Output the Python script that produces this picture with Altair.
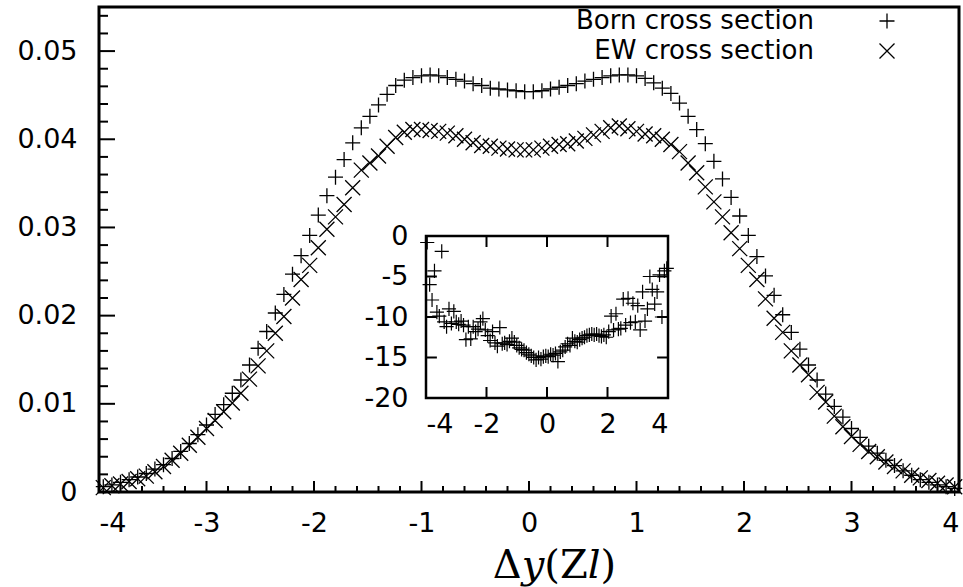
import altair as alt
import pandas as pd

# ---------------- data ----------------
x_bins = [round(-3.96 + 0.08 * i, 2) for i in range(100)]

born = [0.0006, 0.0008, 0.0011, 0.0014, 0.0017, 0.0021, 0.0026, 0.0031, 0.0038, 0.0046,
        0.0055, 0.0065, 0.0076, 0.0088, 0.0099, 0.0112, 0.0127, 0.0144, 0.0163, 0.0182,
        0.0203, 0.0224, 0.0247, 0.0268, 0.0291, 0.0314, 0.0336, 0.0357, 0.0377, 0.0396,
        0.0413, 0.0426, 0.0439, 0.0451, 0.0461, 0.0467, 0.0470, 0.0472, 0.0473, 0.0472,
        0.0470, 0.0468, 0.0466, 0.0463, 0.0461, 0.0458, 0.0457, 0.0456, 0.0455, 0.0454,
        0.0454, 0.0455, 0.0457, 0.0459, 0.0461, 0.0463, 0.0466, 0.0468, 0.0470, 0.0472,
        0.0473, 0.0473, 0.0472, 0.0469, 0.0464, 0.0458, 0.0452, 0.0441, 0.0426, 0.0411,
        0.0395, 0.0375, 0.0355, 0.0334, 0.0313, 0.0291, 0.0267, 0.0245, 0.0223, 0.0201,
        0.0181, 0.0162, 0.0144, 0.0127, 0.0111, 0.0097, 0.0085, 0.0072, 0.0062, 0.0052,
        0.0044, 0.0036, 0.0030, 0.0024, 0.0019, 0.0014, 0.0011, 0.0008, 0.0006, 0.0004]

ew = [0.0005, 0.0007, 0.0009, 0.0012, 0.0015, 0.0018, 0.0023, 0.0029, 0.0036, 0.0044,
      0.0053, 0.0062, 0.0072, 0.0081, 0.0091, 0.0101, 0.0112, 0.0128, 0.0143, 0.0160,
      0.0180, 0.0199, 0.0220, 0.0241, 0.0257, 0.0277, 0.0298, 0.0312, 0.0326, 0.0345,
      0.0365, 0.0373, 0.0381, 0.0392, 0.0402, 0.0408, 0.0411, 0.0411, 0.0410, 0.0409,
      0.0407, 0.0404, 0.0400, 0.0396, 0.0393, 0.0392, 0.0390, 0.0389, 0.0388, 0.0388,
      0.0388, 0.0390, 0.0392, 0.0394, 0.0395, 0.0398, 0.0401, 0.0405, 0.0409, 0.0413,
      0.0415, 0.0412, 0.0409, 0.0406, 0.0404, 0.0400, 0.0394, 0.0386, 0.0373, 0.0362,
      0.0346, 0.0329, 0.0312, 0.0294, 0.0276, 0.0257, 0.0241, 0.0219, 0.0197, 0.0181,
      0.0160, 0.0144, 0.0133, 0.0113, 0.0102, 0.0086, 0.0074, 0.0063, 0.0054, 0.0046,
      0.0040, 0.0034, 0.0029, 0.0024, 0.0019, 0.0016, 0.0013, 0.0010, 0.0008, 0.0006]

# inset: relative correction in percent
inset_y = [-0.8, -6.0, -7.9, -4.3, -9.4, -9.9, -1.9, -10.6, -11.2, -9.0,
           -10.8, -9.3, -10.6, -10.9, -10.5, -11.0, -12.8, -11.2, -12.7, -11.2,
           -11.8, -11.5, -10.6, -10.2, -11.6, -12.3, -12.9, -11.8, -13.2, -13.6,
           -11.3, -13.3, -13.2, -13.4, -13.0, -12.6, -13.1, -13.5, -13.8, -14.0,
           -14.1, -14.4, -14.6, -14.8, -15.0, -15.3, -15.0, -15.2, -14.9, -14.8,
           -14.9, -14.6, -14.7, -14.5, -15.5, -14.3, -14.1, -13.7, -13.3, -13.5,
           -12.6, -13.0, -13.1, -12.8, -12.6, -12.5, -12.3, -12.2, -12.1, -12.2,
           -12.1, -12.3, -12.4, -12.2, -12.5, -11.8, -9.9, -11.6, -9.6, -11.5,
           -11.4, -7.8, -11.0, -7.7, -10.7, -8.3, -10.6, -8.6, -11.6, -6.9,
           -10.5, -9.0, -5.0, -6.6, -8.4, -6.9, -4.8, -10.0, -4.3, -4.0]

series_names = ["Born cross section", "EW cross section"]

x_major = [-4, -3, -2, -1, 0, 1, 2, 3, 4]
x_minor = [-3.8, -3.6, -3.4, -3.2, -2.8, -2.6, -2.4, -2.2, -1.8, -1.6, -1.4, -1.2,
           -0.8, -0.6, -0.4, -0.2, 0.2, 0.4, 0.6, 0.8, 1.2, 1.4, 1.6, 1.8,
           2.2, 2.4, 2.6, 2.8, 3.2, 3.4, 3.6, 3.8]
y_major = [0, 0.01, 0.02, 0.03, 0.04, 0.05]
y_minor = [0.002, 0.004, 0.006, 0.008, 0.012, 0.014, 0.016, 0.018, 0.022, 0.024,
           0.026, 0.028, 0.032, 0.034, 0.036, 0.038, 0.042, 0.044, 0.046, 0.048,
           0.052, 0.054]

inset_x_ticks = [-4, -2, 0, 2, 4]
inset_y_ticks = [-20, -15, -10, -5, 0]
inset_x_inner = [-2, 0, 2]
inset_y_inner = [-15, -10, -5]

# ---------------- style ----------------
FONT = "DejaVu Sans"
FS = 27
W, H = 860, 485
PLUS = "M-1,0L1,0M0,-1L0,1"
CROSS = "M-1,-1L1,1M-1,1L1,-1"
HYPHEN = "replace(datum.label, '\u2212', '-')"

main_df = pd.DataFrame({
    "x": x_bins + x_bins,
    "y": ew + born,
    "series": [series_names[1]] * len(ew) + [series_names[0]] * len(born),
})

xs = alt.Scale(domain=[-4, 4], nice=False, zero=False)
ys = alt.Scale(domain=[0, 0.055], nice=False, zero=False)
shape_scale = alt.Scale(domain=series_names, range=[PLUS, CROSS])

points = alt.Chart(main_df).mark_point(
    filled=False, stroke="black", strokeWidth=1.3, size=225, opacity=1
).encode(
    x=alt.X("x:Q", scale=xs, axis=alt.Axis(
        values=x_major, labels=True, ticks=True, tickSize=0, domain=False, grid=False,
        labelExpr=HYPHEN,
        labelPadding=18, labelFont=FONT, labelFontSize=FS, labelColor="black",
        title="Δ𝑦(Z𝑙)", titleFont="DejaVu Serif", titleFontSize=40,
        titleFontWeight="normal", titleColor="black", titlePadding=9,
        titleX=455, titleAlign="center", titleAnchor="middle")),
    y=alt.Y("y:Q", scale=ys, axis=alt.Axis(
        values=y_major, format=".2~f", labels=True, ticks=True, tickSize=0,
        domain=False, grid=False,
        labelPadding=22, labelFont=FONT, labelFontSize=FS, labelColor="black",
        title=None)),
    shape=alt.Shape("series:N", scale=shape_scale, legend=None),
)

ymaj = alt.Chart(pd.DataFrame({"v": y_major})).mark_rule(color="black", strokeWidth=2).encode(
    y=alt.Y("v:Q", scale=ys, axis=None), x=alt.value(0), x2=alt.value(16))
ymin = alt.Chart(pd.DataFrame({"v": y_minor})).mark_rule(color="black", strokeWidth=2).encode(
    y=alt.Y("v:Q", scale=ys, axis=None), x=alt.value(0), x2=alt.value(9))
xmaj = alt.Chart(pd.DataFrame({"v": x_major})).mark_rule(color="black", strokeWidth=2).encode(
    x=alt.X("v:Q", scale=xs, axis=None), y=alt.value(H), y2=alt.value(H - 11))
xmin = alt.Chart(pd.DataFrame({"v": x_minor})).mark_rule(color="black", strokeWidth=2).encode(
    x=alt.X("v:Q", scale=xs, axis=None), y=alt.value(H), y2=alt.value(H - 6))

# ---------------- legend (text left of symbol, gnuplot style) ----------------
leg_df = pd.DataFrame({"series": series_names})
leg_y = alt.Y("series:N",
              scale=alt.Scale(domain=series_names, range=[14, 44], padding=0),
              axis=None)
leg_text = alt.Chart(leg_df).mark_text(
    align="right", baseline="middle", font=FONT, fontSize=26, color="black"
).encode(y=leg_y, x=alt.value(715), text="series:N")
leg_sym = alt.Chart(leg_df).mark_point(
    filled=False, stroke="black", strokeWidth=1.3, size=225, opacity=1
).encode(y=leg_y, x=alt.value(788),
         shape=alt.Shape("series:N", scale=shape_scale, legend=None))

# ---------------- inset ----------------
ixs = alt.Scale(domain=[-4, 4], range=[327, 569], nice=False, zero=False)
iys = alt.Scale(domain=[-20, 0], range=[391, 229], nice=False, zero=False)

frame = alt.Chart(pd.DataFrame({"x0": [-4], "x1": [4], "y0": [-20], "y1": [0]})).mark_rect(
    fill="white", stroke="black", strokeWidth=2.5
).encode(
    x=alt.X("x0:Q", scale=ixs, axis=None), x2="x1:Q",
    y=alt.Y("y0:Q", scale=iys, axis=None), y2="y1:Q")

inset_pts = alt.Chart(pd.DataFrame({"x": x_bins, "y": inset_y})).mark_point(
    shape=PLUS, filled=False, stroke="black", strokeWidth=1.2, size=200, opacity=1
).encode(
    x=alt.X("x:Q", scale=ixs, axis=alt.Axis(
        values=inset_x_ticks, orient="bottom", offset=-94, labels=True, ticks=True,
        tickSize=0, domain=False, grid=False, labelExpr=HYPHEN,
        labelPadding=13, labelFont=FONT, labelFontSize=FS,
        labelColor="black", title=None)),
    y=alt.Y("y:Q", scale=iys, axis=alt.Axis(
        values=inset_y_ticks, orient="left", offset=-327, labels=True, ticks=True,
        tickSize=0, domain=False, grid=False, labelExpr=HYPHEN,
        labelPadding=18, labelFont=FONT, labelFontSize=FS,
        labelColor="black", title=None)),
)

tick_df_y = pd.DataFrame({"v": inset_y_inner})
tick_df_x = pd.DataFrame({"v": inset_x_inner})
it_left = alt.Chart(tick_df_y).mark_rule(color="black", strokeWidth=2).encode(
    y=alt.Y("v:Q", scale=iys, axis=None),
    x=alt.XDatum(-4, scale=ixs, axis=None), x2=alt.X2Datum(-3.64))
it_right = alt.Chart(tick_df_y).mark_rule(color="black", strokeWidth=2).encode(
    y=alt.Y("v:Q", scale=iys, axis=None),
    x=alt.XDatum(4, scale=ixs, axis=None), x2=alt.X2Datum(3.64))
it_bottom = alt.Chart(tick_df_x).mark_rule(color="black", strokeWidth=2).encode(
    x=alt.X("v:Q", scale=ixs, axis=None),
    y=alt.YDatum(-20, scale=iys, axis=None), y2=alt.Y2Datum(-18.64))
it_top = alt.Chart(tick_df_x).mark_rule(color="black", strokeWidth=2).encode(
    x=alt.X("v:Q", scale=ixs, axis=None),
    y=alt.YDatum(0, scale=iys, axis=None), y2=alt.Y2Datum(-1.36))

chart = alt.layer(
    points, ymaj, ymin, xmaj, xmin,
    frame, it_left, it_right, it_bottom, it_top, inset_pts,
    leg_text, leg_sym,
).resolve_scale(
    x="independent", y="independent"
).properties(
    width=W, height=H,
    autosize=alt.AutoSizeParams(type="none"),
    padding={"left": 99, "top": 7, "right": 4, "bottom": 95},
    background="white",
).configure_view(stroke="black", strokeWidth=3)

chart.save("out.html", embed_options={"renderer": "svg", "actions": False})
